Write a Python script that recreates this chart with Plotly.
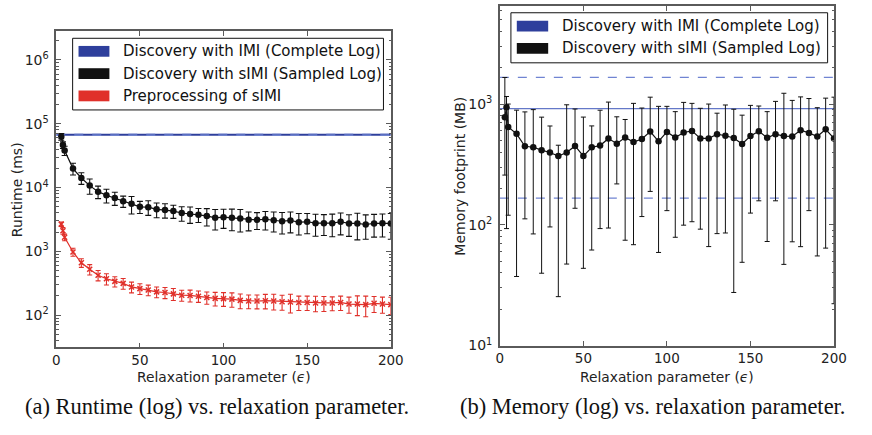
import plotly.graph_objects as go

# ---------------- data ----------------
eps = [3, 4, 5, 10, 15, 20, 25, 30, 35, 40, 45, 50, 55, 60, 65, 70, 75, 80, 85, 90, 95,
       100, 105, 110, 115, 120, 125, 130, 135, 140, 145, 150, 155, 160, 165, 170, 175,
       180, 185, 190, 195, 200]

# (a) runtime in ms
simi_runtime = [62400, 46400, 38000, 19800, 14100, 10700, 8600, 7540, 6840, 6090, 5540,
                4980, 4920, 4540, 4430, 4270, 3980, 3840, 3750, 3580, 3340,
                3430, 3340, 3260, 3110, 3110, 3180, 3070, 2960, 3040, 2860, 2900,
                2760, 2760, 2760, 2900, 2730, 2730, 2630, 2730, 2760, 2730]
simi_runtime_err = [7400, 5500, 6300, 4150, 2900, 2870, 1920, 1820, 1590, 1220, 1690,
                    1070, 1260, 1180, 1120, 990, 1020, 1100, 930, 1090, 1180,
                    1140, 1240, 1250, 1020, 920, 1020, 1060, 1090, 1095, 1060, 1020,
                    1040, 990, 1070, 1090, 1015, 1220, 1090, 1060, 1085, 1190]
prep_runtime = [2665, 2100, 1660, 977, 661, 522, 422, 371, 338, 314, 276,
                260, 248, 231, 226, 215, 205, 203, 198, 189, 183,
                181, 178, 170, 166, 166, 168, 166, 162, 160, 158, 158,
                155, 155, 155, 158, 149, 149, 146, 153, 149, 146]
prep_runtime_err = [220, 250, 197, 139, 102, 97, 78, 74, 62, 60, 53,
                    50, 47, 44, 45, 46, 40, 43, 40, 41, 44,
                    44, 45, 44, 40, 41, 43, 46, 43, 52, 40, 40,
                    42, 41, 38, 40, 42, 51, 52, 43, 42, 44]
imi_runtime = 67000
imi_runtime_std = 1500

# (b) memory in MB
simi_memory = [779, 940, 646, 567, 447, 439, 415, 397, 371, 397, 450,
               371, 439, 453, 519, 470, 529, 485, 513, 592, 491,
               588, 529, 581, 599, 519, 519, 563, 546, 523, 467, 543,
               596, 526, 563, 543, 539, 607, 577, 539, 618, 519]
simi_memory_hi = [1660, 1155, 1000, 890, 861, 899, 779, 658, 456, 986, 910,
                  780, 659, 889, 1038, 784, 745, 1013, 927, 1140, 957,
                  957, 865, 1032, 1013, 922, 1000, 840, 982, 906, 809, 975,
                  963, 865, 1052, 1228, 1072, 1146, 1111, 933, 1119, 1140]
simi_memory_lo = [258, 93, 120, 37.3, 112, 84, 39.7, 96, 25.4, 47.3, 137,
                  43.6, 61.8, 93, 94, 218, 74.5, 68.4, 117, 189, 59,
                  131, 78.8, 99.3, 106, 92, 66, 84.5, 85.5, 27.5, 48.9, 125,
                  158, 72.7, 158, 47, 72.3, 65.9, 131, 55.2, 64.1, 22.2]
imi_memory = 916
imi_memory_std = 750

x_ticks = [0, 50, 100, 150, 200]
legend_a = ["Discovery with IMI (Complete Log)", "Discovery with sIMI (Sampled Log)",
            "Preprocessing of sIMI"]
legend_b = ["Discovery with IMI (Complete Log)", "Discovery with sIMI (Sampled Log)"]
captions = ["(a) Runtime (log) vs. relaxation parameter.",
            "(b) Memory (log) vs. relaxation parameter."]

# ---------------- style ----------------
W, H = 872, 435
BLUE_DARK = "#2e3f9c"
BLUE_LIGHT = "#6478c8"
BLUE_DASH = "#7084d2"
BLACK = "#111111"
RED = "#e0302a"
AX = "#5a5a5a"
FONT = "DejaVu Sans"


def px(x):
    return x / W


def py(y):
    return 1 - y / H


fig = go.Figure()

x_span = [x_ticks[0], x_ticks[-1]]

# ---- (a) ----
for val, dash, col, wd in [(imi_runtime, "solid", BLUE_DARK, 2.2),
                           (imi_runtime + imi_runtime_std, "dash", BLUE_DASH, 1),
                           (imi_runtime - imi_runtime_std, "dash", BLUE_DASH, 1)]:
    fig.add_trace(go.Scatter(x=x_span, y=[val, val], mode="lines",
                             line=dict(color=col, width=wd, dash=dash),
                             xaxis="x", yaxis="y", showlegend=False, hoverinfo="skip"))

fig.add_trace(go.Scatter(
    x=eps, y=simi_runtime, mode="lines+markers", xaxis="x", yaxis="y",
    line=dict(color=BLACK, width=1.2), marker=dict(color=BLACK, size=6.5),
    error_y=dict(type="data", array=simi_runtime_err, color=BLACK, thickness=1.1, width=3),
    showlegend=False))
fig.add_trace(go.Scatter(
    x=eps, y=prep_runtime, mode="lines+markers", xaxis="x", yaxis="y",
    line=dict(color=RED, width=1.2), marker=dict(color=RED, size=5, symbol="x-thin",
                                                line=dict(color=RED, width=1.5)),
    error_y=dict(type="data", array=prep_runtime_err, color=RED, thickness=1.1, width=2.5),
    showlegend=False))

# ---- (b) ----
for val, dash, col, wd in [(imi_memory + imi_memory_std, "dash", BLUE_DASH, 1.3),
                           (imi_memory - imi_memory_std, "dash", BLUE_DASH, 1.3),
                           (imi_memory, "solid", BLUE_LIGHT, 1.3)]:
    fig.add_trace(go.Scatter(x=x_span, y=[val, val], mode="lines",
                             line=dict(color=col, width=wd, dash=dash),
                             xaxis="x2", yaxis="y2", showlegend=False, hoverinfo="skip"))

fig.add_trace(go.Scatter(
    x=eps, y=simi_memory, mode="lines+markers", xaxis="x2", yaxis="y2",
    line=dict(color=BLACK, width=1.2), marker=dict(color=BLACK, size=6.5),
    error_y=dict(type="data", symmetric=False,
                 array=[h - v for h, v in zip(simi_memory_hi, simi_memory)],
                 arrayminus=[v - l for l, v in zip(simi_memory_lo, simi_memory)],
                 color=BLACK, thickness=1, width=2.5),
    showlegend=False))

# ---------------- axes ----------------
tickfont = dict(family=FONT, size=13.5, color="#222")


def xaxis_cfg(domain, anchor):
    return dict(domain=domain, anchor=anchor, range=[0, 200], tickvals=x_ticks,
                ticks="inside", ticklen=5, tickcolor=AX, mirror="allticks",
                showline=True, linecolor=AX, linewidth=1.5, showgrid=False,
                zeroline=False, tickfont=tickfont, ticklabelstandoff=0)


def minor_vals(lo, hi):
    return [m * 10 ** k for k in range(lo, hi) for m in range(2, 10)]


def yaxis_cfg(domain, anchor, rng, decades):
    return dict(domain=domain, anchor=anchor, type="log", range=rng,
                tickmode="array", tickvals=[10 ** d for d in decades],
                ticktext=["10<sup>%d</sup>" % d for d in decades],
                ticks="inside", ticklen=5, tickcolor=AX, mirror="allticks",
                showline=True, linecolor=AX, linewidth=1.5, showgrid=False,
                zeroline=False, tickfont=dict(family=FONT, size=14, color="#222"),
                ticklabelstandoff=3,
                minor=dict(ticks="inside", ticklen=2.5, tickcolor=AX,
                           tickmode="array", tickvals=minor_vals(decades[0] - 1, decades[-1] + 1),
                           showgrid=False))


fig.update_layout(
    width=W, height=H, margin=dict(l=0, r=0, t=0, b=0),
    paper_bgcolor="white", plot_bgcolor="white",
    xaxis=xaxis_cfg([px(53.3), px(394.5)], "y"),
    yaxis=yaxis_cfg([py(354), py(32)], "x", [1.4923, 6.446], [2, 3, 4, 5, 6]),
    xaxis2=xaxis_cfg([px(505.7), px(846.5)], "y2"),
    yaxis2=yaxis_cfg([py(352), py(6)], "x2", [1.0, 3.813], [1, 2, 3]),
    showlegend=False,
)

shapes = []
annotations = []


def text(x, y, s, size=14, xanchor="center", angle=0, family=FONT, color="#222"):
    annotations.append(dict(x=px(x), y=py(y), xref="paper", yref="paper", text=s,
                            showarrow=False, xanchor=xanchor, yanchor="middle",
                            textangle=angle, font=dict(family=family, size=size, color=color)))


# axis titles
text(224, 384, "Relaxation parameter (<i>ϵ</i>)", size=13.8)
text(676, 384, "Relaxation parameter (<i>ϵ</i>)", size=13.8)
text(14, 193, "Runtime (ms)", angle=-90)
text(465, 179, "Memory footprint (MB)", angle=-90)


# legends (drawn as matplotlib-style boxes)
def legend(box, rows, labels, colors, patch_x, text_x):
    x0, y0, x1, y1 = box
    shapes.append(dict(type="rect", xref="paper", yref="paper", x0=px(x0), x1=px(x1),
                       y0=py(y1), y1=py(y0), line=dict(color="#111", width=1),
                       fillcolor="white", layer="above"))
    for yy, lab, col in zip(rows, labels, colors):
        shapes.append(dict(type="rect", xref="paper", yref="paper",
                           x0=px(patch_x[0]), x1=px(patch_x[1]),
                           y0=py(yy + 5.5), y1=py(yy - 5.5),
                           line=dict(width=0), fillcolor=col, layer="above"))
        text(text_x, yy, lab, size=15, xanchor="left", color="#111")


legend((70, 39, 387, 112), [52.3, 75, 97.7], legend_a, [BLUE_DARK, BLACK, RED], (76, 107.5), 119)
legend((517, 13, 840, 64), [26.7, 49.3], legend_b, [BLUE_DARK, BLACK], (523, 555), 567.5)

# captions
text(217, 414, captions[0], size=22.5, family="Liberation Serif", color="#111")
text(662, 414, captions[1], size=22.5, family="Liberation Serif", color="#111")

fig.update_layout(shapes=shapes, annotations=annotations)
fig.write_html(
    "out.html",
    config={"displayModeBar": False},
    post_script=(
        "document.documentElement.style.margin='0';"
        "document.documentElement.style.overflow='hidden';"
        "document.body.style.margin='0';document.body.style.overflow='hidden';"
        "var gd=document.getElementById('{plot_id}');"
        "gd.style.position='fixed';gd.style.left='0px';gd.style.top='0px';"
    ),
)
